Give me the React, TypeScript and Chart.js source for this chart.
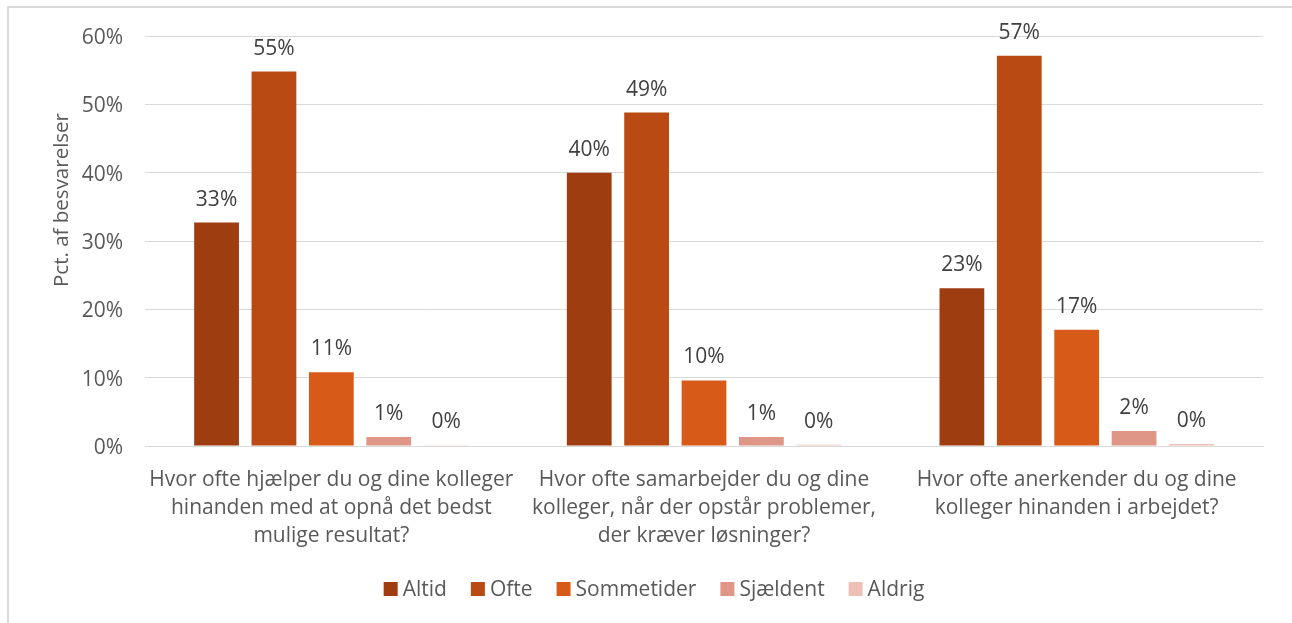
import React, { useEffect, useRef } from "react";
import { Chart, registerables } from "chart.js";

Chart.register(...registerables);

const categories: string[][] = [
  ["Hvor ofte hjælper du og dine kolleger", "hinanden med at opnå det bedst", "mulige resultat?"],
  ["Hvor ofte samarbejder du og dine", "kolleger, når der opstår problemer,", "der kræver løsninger?"],
  ["Hvor ofte anerkender du og dine", "kolleger hinanden i arbejdet?"],
];
const seriesNames = ["Altid", "Ofte", "Sommetider", "Sjældent", "Aldrig"];
const altid = [32.7, 40.0, 23.1];
const ofte = [54.8, 48.8, 57.1];
const sommetider = [10.8, 9.6, 17.0];
const sjaeldent = [1.3, 1.3, 2.2];
const aldrig = [0.1, 0.2, 0.3];
const seriesValues = [altid, ofte, sommetider, sjaeldent, aldrig];
const seriesColors = ["#9E3D10", "#BA4A13", "#D75A18", "#E09686", "#EDC0B6"];
const yTicks = [0, 10, 20, 30, 40, 50, 60];
const yTitle = "Pct. af besvarelser";

const FONT = "'Open Sans', sans-serif";

const labelPlugin = {
  id: "labels",
  afterDatasetsDraw(chart: any) {
    const ctx = chart.ctx;
    ctx.save();
    ctx.font = `21px ${FONT}`;
    ctx.fillStyle = "#404040";
    ctx.textAlign = "center";
    ctx.textBaseline = "middle";
    chart.data.datasets.forEach((ds: any, i: number) => {
      const meta = chart.getDatasetMeta(i);
      meta.data.forEach((bar: any, j: number) => {
        const v = ds.data[j];
        ctx.fillText(Math.round(v) + "%", bar.x, bar.y - 23);
      });
    });
    ctx.restore();

    // y axis title
    ctx.save();
    ctx.translate(62, 200);
    ctx.rotate(-Math.PI / 2);
    ctx.fillStyle = "#595959";
    ctx.font = `20.5px ${FONT}`;
    ctx.textAlign = "center";
    ctx.textBaseline = "middle";
    ctx.fillText(yTitle, 0, 0);
    ctx.restore();

    // legend
    ctx.save();
    ctx.font = `21px ${FONT}`;
    ctx.textBaseline = "middle";
    ctx.textAlign = "left";
    const box = 14;
    const gap = 5;
    const itemGap = 24;
    const widths = chart.data.datasets.map((ds: any) => ctx.measureText(ds.label).width);
    const total =
      widths.reduce((a: number, w: number) => a + box + gap + w, 0) + itemGap * (widths.length - 1);
    let x = 654 - total / 2;
    const y = 589;
    chart.data.datasets.forEach((ds: any, i: number) => {
      ctx.fillStyle = ds.backgroundColor;
      ctx.fillRect(x, y - box / 2, box, box);
      ctx.fillStyle = "#595959";
      ctx.fillText(ds.label, x + box + gap, y + 1);
      x += box + gap + widths[i] + itemGap;
    });
    ctx.restore();
  },
};

export default function App() {
  const ref = useRef<HTMLCanvasElement>(null);
  useEffect(() => {
    if (!ref.current) return;
    const chart = new Chart(ref.current, {
      type: "bar",
      data: {
        labels: categories,
        datasets: seriesNames.map((name, i) => ({
          label: name,
          data: seriesValues[i],
          backgroundColor: seriesColors[i],
          borderWidth: 0,
          barPercentage: 0.78,
          categoryPercentage: 0.77,
        })),
      },
      options: {
        animation: false,
        responsive: false,
        layout: { padding: { top: 36, right: 29, left: 0, bottom: 65 } },
        plugins: {
          legend: { display: false },
          tooltip: { enabled: false },
        },
        scales: {
          x: {
            grid: { display: false },
            border: { color: "#d9d9d9", width: 1 },
            ticks: {
              color: "#595959",
              font: { family: FONT, size: 21, lineHeight: 1.333 },
              padding: 12,
              maxRotation: 0,
              autoSkip: false,
            },
            afterFit(scale: any) {
              scale.height = 112;
            },
          },
          y: {
            min: 0,
            max: 60,
            afterBuildTicks(scale: any) {
              scale.ticks = yTicks.map((v) => ({ value: v }));
            },
            grid: { color: "#d9d9d9", drawTicks: false },
            border: { display: false },
            ticks: {
              color: "#595959",
              font: { family: FONT, size: 21 },
              padding: 22,
              labelOffset: 2,
              callback: (v: any) => v + "%",
            },
            afterFit(scale: any) {
              scale.width = 145;
            },
          },
        },
      },
      plugins: [labelPlugin],
    });
    return () => chart.destroy();
  }, []);
  return (
    <div style={{ position: "fixed", left: 0, top: 0, width: 1292, height: 623, background: "#fff" }}>
      <div
        style={{
          position: "absolute",
          left: 7,
          top: 6,
          width: 1320,
          height: 660,
          border: "2px solid #d9d9d9",
          boxSizing: "border-box",
        }}
      />
      <canvas ref={ref} width={1292} height={623} style={{ position: "absolute", left: 0, top: 0 }} />
    </div>
  );
}
